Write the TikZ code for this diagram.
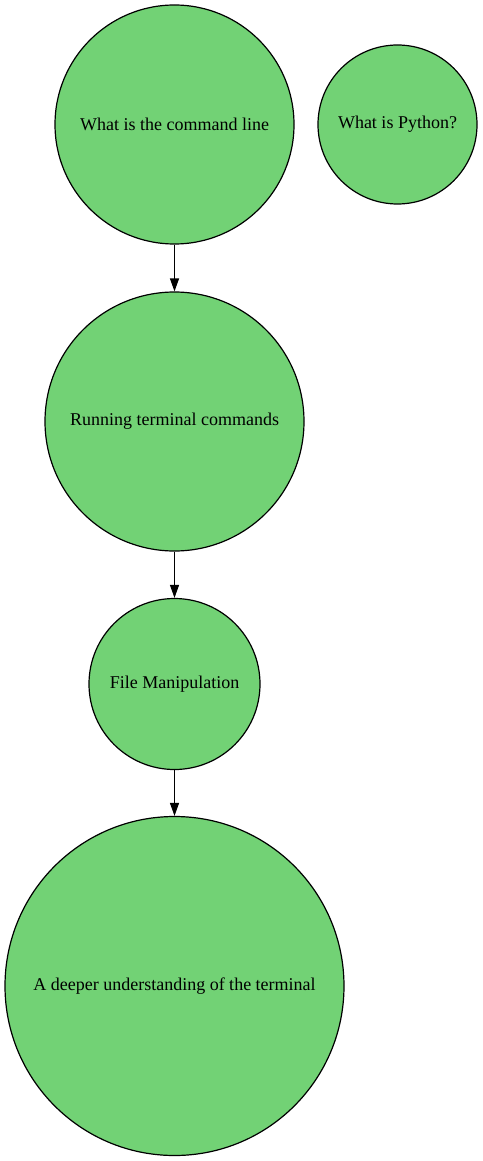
\documentclass[tikz,border=0pt]{standalone}
\usepackage{fontspec}
\setmainfont{Liberation Serif}
\usetikzlibrary{arrows.meta}
\definecolor{nodegreen}{HTML}{72D275}
\tikzset{
  topic/.style={circle, draw=black, fill=nodegreen, line width=1.2pt, inner sep=0pt,
    font=\fontsize{18}{21}\selectfont, text=black},
  link/.style={draw=black, line width=1.2pt, -{Triangle[length=13pt,width=9pt]}}
}
\begin{document}
\begin{tikzpicture}[x=1pt,y=-1pt]
\useasboundingbox (0,0) rectangle (482,1161);
\node[topic, minimum size=239pt] (cmd) at (174.5,124.5) {What is the command line};
\node[topic, minimum size=159pt] (py) at (397.5,124.5) {What is Python?};
\node[topic, minimum size=259pt] (run) at (174.5,421.5) {Running terminal commands};
\node[topic, minimum size=171pt] (file) at (174.5,684) {File Manipulation};
\node[topic, minimum size=339pt] (deep) at (174.5,986) {A deeper understanding of the terminal};
\draw[link] (cmd.south) -- (run.north);
\draw[link] (run.south) -- (file.north);
\draw[link] (file.south) -- (deep.north);
\end{tikzpicture}
\end{document}
